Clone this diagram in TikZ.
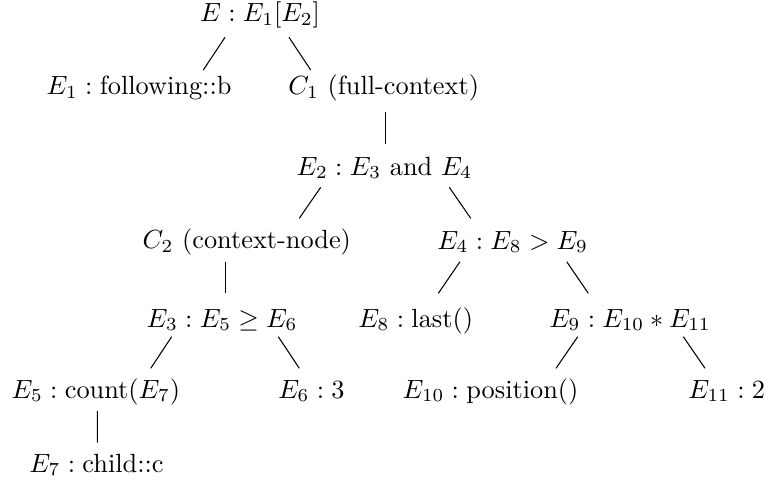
\documentclass[tikz,border=0pt]{standalone}
\tikzset{
  lbl/.style={anchor=base west, inner sep=0pt, outer sep=0pt, font=\normalsize},
  edge/.style={draw=black, line width=0.4pt}
}
\begin{document}
\begin{tikzpicture}[x=0.38pt, y=-0.38pt]
\useasboundingbox (0,0) rectangle (768,480);
\node[lbl] (root) at (200,22) {$E : E_1[E_2]$};
\node[lbl] (e1) at (46.7,95) {$E_1 : \mbox{following::b}$};
\node[lbl] (c1) at (288.3,95) {$C_1$~(full-context)};
\node[lbl] (e2) at (296.7,175) {$E_2 : E_3 \mbox{ and } E_4$};
\node[lbl] (c2) at (142.7,248.5) {$C_2$~(context-node)};
\node[lbl] (e4) at (437.3,249) {$E_4 : E_8 > E_9$};
\node[lbl] (e3) at (146.7,327) {$E_3 : E_5 \geq E_6$};
\node[lbl] (e8) at (358.3,327) {$E_8 : \mbox{last()}$};
\node[lbl] (e9) at (549.3,327) {$E_9 : E_{10} * E_{11}$};
\node[lbl] (e5) at (11.7,398) {$E_5 : \mbox{count}(E_7)$};
\node[lbl] (e6) at (278.3,398) {$E_6 : 3$};
\node[lbl] (e10) at (402.7,398) {$E_{10} : \mbox{position()}$};
\node[lbl] (e11) at (688.3,398) {$E_{11} : 2$};
\node[lbl] (e7) at (29.3,472) {$E_7 : \mbox{child::c}$};
\draw[edge] ([shift={(25,15.3)}]root.base west) -- ([shift={(156.6,-25)}]e1.base west);
\draw[edge] ([shift={(89,15.3)}]root.base west) -- ([shift={(22.4,-25)}]c1.base west);
\draw[edge] ([shift={(97.2,17.3)}]c1.base west) -- ([shift={(88.8,-31)}]e2.base west);
\draw[edge] ([shift={(24,12.3)}]e2.base west) -- ([shift={(156.6,-30.2)}]c2.base west);
\draw[edge] ([shift={(152.6,12.3)}]e2.base west) -- ([shift={(33.4,-30.7)}]e4.base west);
\draw[edge] ([shift={(82.8,13.2)}]c2.base west) -- ([shift={(78.8,-33.7)}]e3.base west);
\draw[edge] ([shift={(22.7,12.7)}]e4.base west) -- ([shift={(80,-33.7)}]e8.base west);
\draw[edge] ([shift={(129.4,12.7)}]e4.base west) -- ([shift={(39,-33.7)}]e9.base west);
\draw[edge] ([shift={(25,9.7)}]e3.base west) -- ([shift={(139,-29.7)}]e5.base west);
\draw[edge] ([shift={(131.6,9.7)}]e3.base west) -- ([shift={(21,-29.7)}]e6.base west);
\draw[edge] ([shift={(28.4,9.7)}]e9.base west) -- ([shift={(153.3,-29.7)}]e10.base west);
\draw[edge] ([shift={(134,9.7)}]e9.base west) -- ([shift={(16.7,-29.7)}]e11.base west);
\draw[edge] ([shift={(85.6,13)}]e5.base west) -- ([shift={(68,-29.3)}]e7.base west);
\end{tikzpicture}
\end{document}
